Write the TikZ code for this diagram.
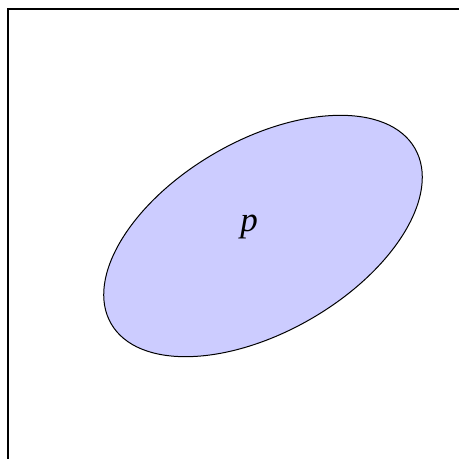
\documentclass[tikz,border=0pt]{standalone}
\usepackage{fontspec}
\setmainfont{Liberation Serif}
\usetikzlibrary{shapes.geometric}
\definecolor{region}{HTML}{CCCCFF}
\begin{document}
\begin{tikzpicture}[x=0.4pt, y=-0.4pt,
      frame/.style={draw=black, line width=0.8pt},
      blob/.style={ellipse, draw=black, fill=region, line width=0.4pt, inner sep=0pt,
        minimum width=140.3pt, minimum height=76.6pt, rotate=30},
      lbl/.style={font=\fontsize{14}{16}\selectfont\itshape}]
    \useasboundingbox (0,0) rectangle (459,459);
    \draw[frame] (8,459) -- (8,9) -- (459,9);
    \node[blob] (set) at (263,236) {};
    \node[lbl] (name) at (249,227) {p};
  \end{tikzpicture}
\end{document}
